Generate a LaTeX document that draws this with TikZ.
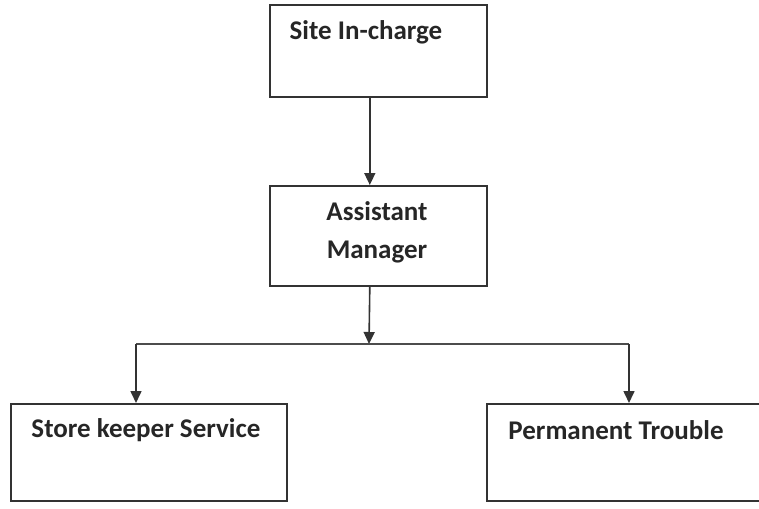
\documentclass[tikz,border=0pt]{standalone}
\usepackage{fontspec}
\setmainfont{Carlito}
\usetikzlibrary{arrows.meta,calc}

\begin{document}
\begin{tikzpicture}[x=1pt,y=-1pt,>={Triangle[length=12pt,width=11pt]},line width=1.6pt]
  \tikzstyle{box}=[rectangle,draw=black!80,line width=1.6pt,inner sep=0pt,anchor=north west]
  \tikzstyle{caption}=[text=black!85,font=\fontsize{27}{38}\selectfont\bfseries,inner sep=0pt,align=center]

    \useasboundingbox (0,0) rectangle (759,508);

    % boxes
    \node [box,minimum width=217pt,minimum height=92pt]  (site)  at (269,4)   {};
    \node [box,minimum width=217pt,minimum height=100pt] (asst)  at (269,185) {};
    \node [box,minimum width=276pt,minimum height=97pt]  (store) at (10,403)  {};
    \node [box,minimum width=300pt,minimum height=97pt]  (perm)  at (486,403) {};

    % texts
    \node [caption] (sitetxt)  at (366,32)  {Site In-charge};
    \node [caption] (assttxt)  at (377,232) {Assistant\\Manager};
    \node [caption] (storetxt) at (146,430) {Store keeper Service};
    \node [caption] (permtxt)  at (616,430) {Permanent Trouble};

    % connectors
    \coordinate (split) at (369,344);
    \coordinate (left)  at (136,344);
    \coordinate (right) at (629,344);
    \draw [->,draw=black!80] ([xshift=-8.5pt]site.south) -- ([xshift=-8.5pt]asst.north);
    \draw [->,draw=black!80] ([xshift=-8.5pt]asst.south) -- (split);
    \draw [draw=black!70] (left) -- (right);
    \draw [->,draw=black!80] (left) -- (left |- store.north);
    \draw [->,draw=black!80] (right) -- (right |- perm.north);
\end{tikzpicture}
\end{document}
